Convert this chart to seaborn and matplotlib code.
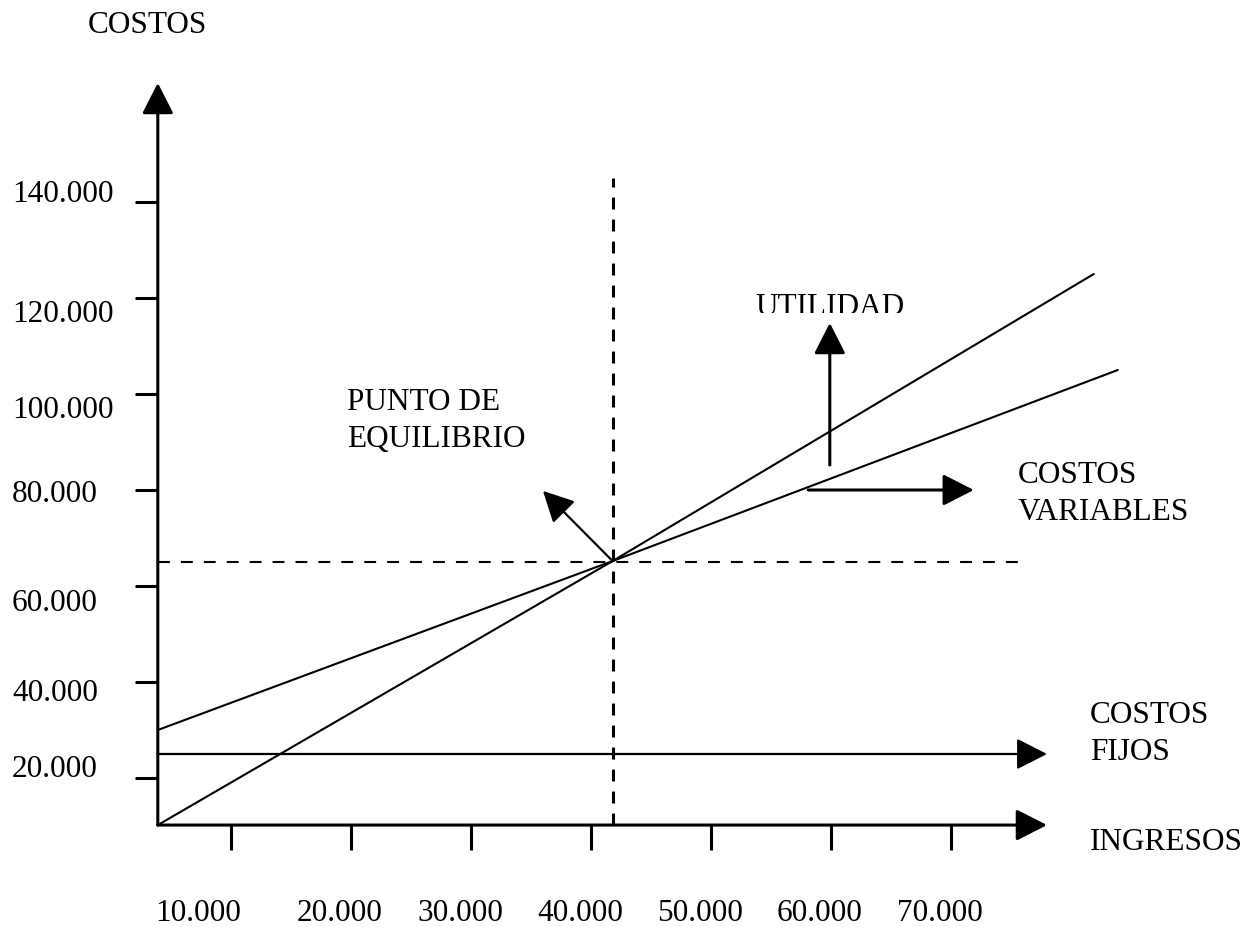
import numpy as np
import pandas as pd
import seaborn as sns
import matplotlib.pyplot as plt
from matplotlib.transforms import Bbox, TransformedBbox

sns.set_style("white")
plt.rcParams['font.family'] = ['Liberation Serif', 'DejaVu Serif']

# chart values, in thousands
x_ticks = [10, 20, 30, 40, 50, 60, 70]
x_labels = ['10.000', '20.000', '30.000', '40.000', '50.000', '60.000', '70.000']
y_ticks = [20, 40, 60, 80, 100, 120, 140]
y_labels = ['20.000', '40.000', '60.000', '80.000', '100.000', '120.000', '140.000']

x_start = 3.9      # where the two axes meet
y_start = 10.2
x_end = 78.0       # tip of the horizontal arrows
y_end = 164.8      # tip of the vertical axis

fixed_cost = 25.0
cost_units = [3.9, 41.8, 83.9]
total_cost = [30.0, 65.2, 105.0]
revenue_units = [3.9, 41.8, 81.9]
revenue = [10.2, 65.2, 125.0]

bep_units = 41.8
bep_cost = 65.0
bep_top = 145.0
bep_right = 76.2

# pointer arrows (tail, tip)
profit_arrow = [(59.9, 85.2), (59.9, 114.8)]
variable_arrow = [(58.1, 80.0), (71.9, 80.0)]
bep_arrow = [(41.8, 65.2), (36.0, 79.8)]

W, H = 1254, 927
fig = plt.figure(figsize=(W / 100, H / 100), dpi=100)
ax = fig.add_axes([0, 0, 1, 1])
ax.set_xlim(-9.25, 95.25)
ax.set_ylim(-11.04, 182.08)
ax.axis('off')

ink = 'black'
FS = 22.5


def arrow(tail, tip, lw):
    ax.annotate('', xy=tip, xytext=tail,
                arrowprops=dict(arrowstyle='-|>,head_length=19,head_width=9.7',
                                color=ink, lw=lw, shrinkA=0, shrinkB=0,
                                mutation_scale=1))


# axes with arrow heads
arrow((x_start, y_start), (x_start, y_end), 2.2)
arrow((x_start, y_start), (x_end, y_start), 2.2)

# tick marks
ax.hlines(y_ticks, 2.0, x_start, color=ink, lw=2.2)
ax.vlines(x_ticks, 5.0, y_start, color=ink, lw=2.2)

# fixed costs
arrow((x_start, fixed_cost), (x_end, fixed_cost), 1.6)

# total cost and revenue lines
sns.lineplot(x=cost_units, y=total_cost, color=ink, lw=1.5, ax=ax)
sns.lineplot(x=revenue_units, y=revenue, color=ink, lw=1.5, ax=ax)

# break-even guides
ax.plot([bep_units, bep_units], [y_start, bep_top], color=ink, lw=2.2,
        linestyle=(0, (3.9, 3.3)))
ax.plot([x_start, bep_right], [bep_cost, bep_cost], color=ink, lw=1.5,
        linestyle=(0, (5.7, 5.3)))

# pointers
arrow(profit_arrow[0], profit_arrow[1], 2.2)
arrow(variable_arrow[0], variable_arrow[1], 2.2)
arrow(bep_arrow[0], bep_arrow[1], 1.6)


def put(px, py, s, ha='left'):
    return fig.text(px / W, 1 - py / H, s, ha=ha, va='baseline',
                    fontsize=FS, color=ink)


put(88, 33, 'COSTOS')

y_base = [777, 701, 611, 502, 418, 322, 202]
for lab, b in zip(y_labels, y_base):
    put(12, b, lab)

x_cent = [198, 340, 460, 580, 700, 820, 940]
for lab, c in zip(x_labels, x_cent):
    put(c, 921, lab, ha='center')

# the profit label is cut off at its foot, as in the original
t = put(830, 315, 'UTILIDAD', ha='center')
t.set_clip_box(TransformedBbox(Bbox([[0, 1 - 313 / H], [1, 1]]), fig.transFigure))
t.set_clip_on(True)

put(347, 410, 'PUNTO DE')
put(347, 447, 'EQUILIBRIO')
put(1018, 483, 'COSTOS')
put(1018, 520, 'VARIABLES')
put(1090, 723, 'COSTOS')
put(1090, 760, 'FIJOS')
put(1090, 850, 'INGRESOS')

fig.savefig('out.png', dpi=100)
